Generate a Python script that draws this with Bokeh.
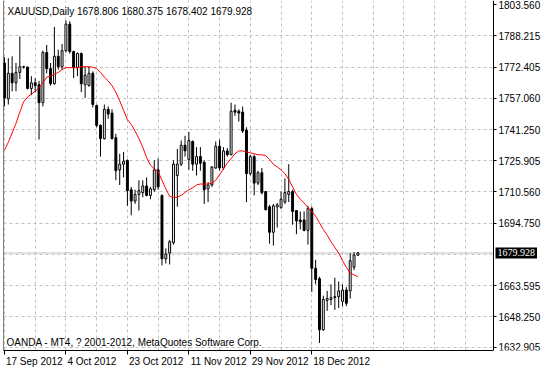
from bokeh.plotting import figure
from bokeh.models import FixedTicker, Range1d, Span, Label, ColumnDataSource
from bokeh.embed import file_html
from bokeh.resources import INLINE

symbol = "XAUUSD"
timeframe = "Daily"
copyright_text = "OANDA - MT4, ? 2001-2012, MetaQuotes Software Corp."

opens = [1774.67, 1756.75, 1769.49, 1764.77, 1769.96, 1772.79, 1772.60, 1761.94, 1764.77, 1763.82,
         1754.86, 1779.86, 1771.84, 1764.30, 1777.98, 1772.79, 1780.81, 1794.02, 1780.34, 1772.31,
         1779.39, 1763.82, 1763.35, 1769.49, 1753.45, 1743.54, 1736.94, 1751.56, 1749.67, 1737.41,
         1721.37, 1724.20, 1726.08, 1711.46, 1705.80, 1709.10, 1710.04, 1713.35, 1708.63, 1711.46,
         1721.37, 1708.63, 1677.02, 1679.86, 1685.04, 1718.54, 1724.20, 1733.63, 1726.56, 1735.52,
         1724.20, 1727.97, 1725.14, 1711.93, 1713.82, 1722.31, 1733.16, 1722.31, 1730.80, 1728.91,
         1751.09, 1750.61, 1750.14, 1741.18, 1719.48, 1727.97, 1714.76, 1719.95, 1710.52, 1702.97,
         1690.24, 1702.97, 1702.50, 1705.33, 1709.10, 1710.52, 1701.08, 1696.37, 1696.37, 1691.18,
         1702.02, 1672.31, 1667.12, 1641.64, 1656.26, 1656.74, 1657.68, 1658.15, 1655.79, 1661.46,
         1660.99, 1672.78, 1678.806]
highs = [1777.51, 1777.03, 1777.98, 1774.67, 1787.88, 1773.26, 1772.79, 1768.07, 1767.12, 1765.71,
         1780.81, 1783.64, 1774.67, 1792.60, 1781.28, 1784.11, 1795.90, 1795.43, 1780.81, 1779.86,
         1779.86, 1772.79, 1772.79, 1770.43, 1753.92, 1744.01, 1753.92, 1752.98, 1751.56, 1739.29,
         1729.39, 1730.33, 1726.56, 1712.88, 1711.46, 1716.18, 1716.18, 1717.59, 1712.88, 1726.08,
         1727.03, 1709.10, 1682.21, 1686.47, 1726.08, 1731.74, 1735.99, 1738.35, 1740.24, 1735.99,
         1732.69, 1732.69, 1726.08, 1715.24, 1723.25, 1735.52, 1736.47, 1732.69, 1732.22, 1754.86,
         1753.92, 1751.56, 1752.98, 1742.60, 1728.91, 1728.91, 1720.90, 1722.31, 1710.80, 1703.91,
         1704.38, 1704.86, 1710.52, 1717.12, 1724.20, 1711.46, 1701.30, 1700.61, 1700.61, 1703.44,
         1702.97, 1676.55, 1668.06, 1658.63, 1660.99, 1664.29, 1667.59, 1665.71, 1664.29, 1662.88,
         1679.86, 1680.33, 1680.375]
lows = [1752.98, 1753.92, 1760.52, 1760.52, 1766.65, 1771.84, 1761.47, 1758.64, 1760.05, 1736.47,
        1752.98, 1769.49, 1763.35, 1763.82, 1771.37, 1771.37, 1779.86, 1779.39, 1767.12, 1768.07,
        1760.05, 1757.22, 1762.88, 1752.50, 1742.60, 1727.97, 1736.47, 1746.79, 1736.47, 1716.18,
        1713.82, 1717.59, 1703.44, 1698.72, 1704.38, 1701.08, 1707.69, 1708.16, 1706.74, 1710.52,
        1711.46, 1673.72, 1674.67, 1674.19, 1684.10, 1702.97, 1723.25, 1727.97, 1721.37, 1720.90,
        1718.54, 1720.90, 1704.38, 1705.33, 1712.88, 1721.84, 1720.90, 1721.37, 1727.97, 1728.60,
        1748.26, 1745.43, 1739.77, 1705.33, 1718.54, 1708.63, 1713.82, 1709.10, 1701.08, 1684.57,
        1683.63, 1692.59, 1702.02, 1704.38, 1705.33, 1694.01, 1689.29, 1691.65, 1690.71, 1684.10,
        1660.51, 1664.29, 1635.04, 1641.17, 1651.08, 1653.91, 1651.55, 1652.49, 1653.43, 1653.43,
        1657.21, 1671.36, 1678.402]
closes = [1757.22, 1769.49, 1764.77, 1769.96, 1772.79, 1772.60, 1761.94, 1764.77, 1763.35, 1754.86,
          1779.86, 1771.84, 1764.30, 1777.98, 1772.79, 1780.81, 1794.02, 1780.34, 1772.31, 1779.39,
          1764.30, 1768.54, 1769.49, 1753.92, 1743.54, 1736.94, 1751.56, 1749.20, 1736.94, 1720.90,
          1724.20, 1725.61, 1710.99, 1705.80, 1709.10, 1710.99, 1713.35, 1708.63, 1711.93, 1721.37,
          1712.88, 1677.02, 1679.38, 1685.52, 1724.20, 1724.20, 1733.63, 1730.80, 1735.99, 1724.20,
          1727.97, 1724.67, 1711.46, 1713.82, 1722.78, 1733.16, 1722.31, 1730.80, 1728.91, 1750.61,
          1750.14, 1749.67, 1740.71, 1719.48, 1727.97, 1714.76, 1719.95, 1710.04, 1701.55, 1690.24,
          1703.44, 1703.91, 1706.74, 1710.04, 1710.52, 1700.61, 1695.89, 1695.42, 1691.18, 1702.02,
          1672.31, 1666.65, 1641.64, 1656.74, 1657.21, 1657.68, 1658.15, 1660.99, 1661.46, 1654.85,
          1676.08, 1678.91, 1679.928]
ma_values = [1731.27, 1735.05, 1739.77, 1744.48, 1750.14, 1755.33, 1757.69, 1759.11, 1760.52, 1762.41,
             1764.77, 1767.60, 1768.07, 1769.01, 1769.96, 1771.37, 1772.31, 1772.31, 1772.31, 1772.31,
             1772.79, 1772.79, 1772.79, 1772.55, 1771.84, 1769.96, 1767.60, 1765.71, 1763.35, 1760.05,
             1755.81, 1751.09, 1746.37, 1744.01, 1740.71, 1736.94, 1732.69, 1727.50, 1723.73, 1721.84,
             1720.43, 1716.18, 1711.93, 1708.16, 1707.69, 1707.69, 1708.63, 1710.04, 1711.46, 1712.41,
             1713.82, 1714.29, 1714.29, 1714.29, 1714.76, 1716.18, 1719.01, 1721.84, 1724.67, 1727.03,
             1729.39, 1730.80, 1730.80, 1730.33, 1729.86, 1729.39, 1728.91, 1728.91, 1728.44, 1726.56,
             1724.20, 1722.78, 1721.37, 1719.48, 1716.65, 1712.88, 1709.10, 1706.74, 1704.86, 1702.50,
             1700.61, 1698.25, 1694.95, 1691.65, 1688.82, 1685.52, 1682.69, 1679.86, 1676.08, 1672.78,
             1669.95, 1669.01, 1668.06]

date_tick_bars = [0, 16, 32, 48, 64, 80]
date_tick_labels = ["17 Sep 2012", "4 Oct 2012", "23 Oct 2012", "11 Nov 2012", "29 Nov 2012", "18 Dec 2012"]
price_tick_values = [1632.905, 1648.250, 1663.595, 1694.750, 1710.560, 1725.905,
                     1741.250, 1757.060, 1772.405, 1788.215, 1803.560]
price_grid_values = [1632.905, 1648.250, 1663.595, 1679.405, 1694.750, 1710.560, 1725.905,
                     1741.250, 1757.060, 1772.405, 1788.215]
time_grid_bars = [0, 8, 16, 24, 32, 40, 48, 56, 64, 72, 80, 88, 96, 104, 112, 120]

FONT = "Liberation Sans"
FSIZE_PX = 10
FSIZE = f"{FSIZE_PX}px"
# Arial-metric advance widths (em) used to left-align the date labels to their ticks
CHAR_EM = {" ": 0.278, "S": 0.667, "e": 0.556, "p": 0.556, "O": 0.778, "c": 0.5, "t": 0.278,
           "N": 0.722, "o": 0.556, "v": 0.5, "D": 0.722}

CHART_W, FRAME_W, FRAME_H = 490, 539, 350
x_lo, x_border = -0.25, 127.3
px_per_bar = CHART_W / (x_border - x_lo)
x_hi = x_lo + FRAME_W / px_per_bar
y_lo, y_hi = 1631.3, 1805.8

bars = list(range(len(closes)))
tops = [max(o, c) for o, c in zip(opens, closes)]
bottoms = [min(o, c) for o, c in zip(opens, closes)]
fills = ["white" if c > o else "black" for o, c in zip(opens, closes)]

src = ColumnDataSource(dict(x=bars, o=opens, h=highs, l=lows, c=closes,
                            top=tops, bottom=bottoms, fill=fills))

p = figure(frame_width=FRAME_W, frame_height=FRAME_H, output_backend="svg", toolbar_location=None,
           x_range=Range1d(x_lo, x_hi), y_range=Range1d(y_lo, y_hi),
           y_axis_location="right", min_border_left=3, min_border_right=0,
           min_border_top=0, min_border_bottom=0)
p.background_fill_color = "white"
p.border_fill_color = "white"
p.outline_line_color = None

# grid
p.xgrid.ticker = FixedTicker(ticks=time_grid_bars)
p.ygrid.ticker = FixedTicker(ticks=price_grid_values)
for g in (p.xgrid, p.ygrid):
    g.grid_line_color = "#c0c0c0"
    g.grid_line_dash = "3 3"
    g.grid_line_width = 1

# time axis: labels centred at shifted major ticks, tick marks drawn as minor ticks at the bars
def text_width(s):
    return sum(CHAR_EM.get(ch, 0.556) for ch in s) * FSIZE_PX

label_pos = [b + (text_width(t) / 2 + 1.5) / px_per_bar for b, t in zip(date_tick_bars, date_tick_labels)]
xa = p.xaxis[0]
xa.ticker = FixedTicker(ticks=label_pos, minor_ticks=date_tick_bars)
xa.major_label_overrides = {pos: t for pos, t in zip(label_pos, date_tick_labels)}
xa.bounds = (x_lo, x_border)
xa.major_tick_line_color = None
xa.minor_tick_line_color = "black"
xa.minor_tick_out = 4
xa.minor_tick_in = 0
xa.major_tick_out = 4
xa.major_tick_in = 0
xa.major_label_standoff = 1
xa.axis_line_color = "black"

ya = p.yaxis[0]
ya.ticker = FixedTicker(ticks=price_tick_values)
ya.major_label_overrides = {v: f"{v:.3f}" for v in price_tick_values}
ya.fixed_location = x_border
ya.major_tick_out = 3
ya.major_tick_in = 0
ya.minor_tick_line_color = None
ya.major_label_standoff = 2
ya.axis_line_color = "black"
ya.major_tick_line_color = "black"

for ax in (xa, ya):
    ax.major_label_text_font = FONT
    ax.major_label_text_font_size = FSIZE
    ax.major_label_text_color = "black"

# left border
p.add_layout(Span(location=x_lo, dimension="height", line_color="black", line_width=1))

# price-scale area right of the chart border (hides the grid there)
p.quad(left=[x_border], right=[x_hi], bottom=[y_lo], top=[y_hi], fill_color="white", line_color=None)

# current price line
p.segment(x0=[x_lo], y0=[closes[-1]], x1=[x_border], y1=[closes[-1]], line_color="#c0c0c0", line_width=1)

# candles
p.segment(x0="x", y0="l", x1="x", y1="h", source=src, line_color="black", line_width=1)
p.vbar(x="x", width=0.5, top="top", bottom="bottom", source=src,
       fill_color="fill", line_color="black", line_width=1)

# moving average
p.line(bars, ma_values, line_color="#ff0000", line_width=1)

# current price box on the price scale
p.text(x=[x_border], y=[closes[-1]], text=[f"{closes[-1]:.3f}"], x_offset=2,
       text_font=FONT, text_font_size=FSIZE, text_color="white",
       text_baseline="middle", text_align="left",
       background_fill_color="black", padding=2)

# texts
header = f"{symbol},{timeframe}  {opens[-1]:.3f} {highs[-1]:.3f} {lows[-1]:.3f} {closes[-1]:.3f}"
p.add_layout(Label(x=x_lo, y=y_hi, x_offset=4, y_offset=-5, text=header,
                   text_font=FONT, text_font_size=FSIZE, text_color="black",
                   text_baseline="top", text_align="left"))
p.add_layout(Label(x=x_lo, y=y_lo, x_offset=3, y_offset=3, text=copyright_text,
                   text_font=FONT, text_font_size=FSIZE, text_color="black",
                   text_baseline="bottom", text_align="left"))

open("out.html", "w").write(file_html(p, INLINE))
